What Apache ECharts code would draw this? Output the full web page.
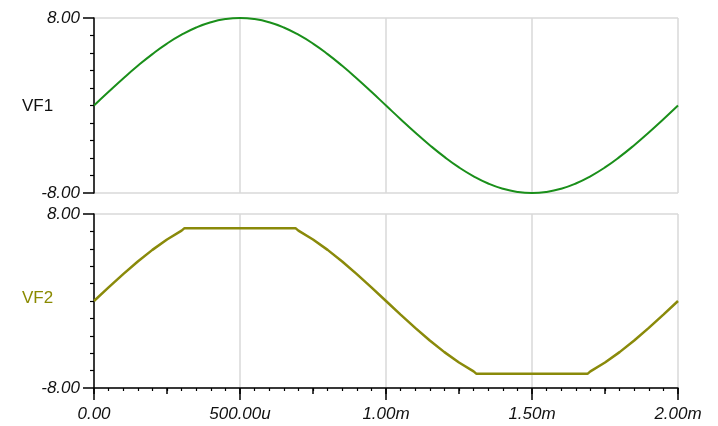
<!DOCTYPE html>
<html>
<head>
<meta charset="utf-8">
<script src="https://cdn.jsdelivr.net/npm/echarts@6/dist/echarts.min.js"></script>
<style>
  html, body { margin: 0; padding: 0; background: #fff; }
  #chart { width: 718px; height: 426px; }
</style>
</head>
<body>
<div id="chart"></div>
<script>
  // time in ms
  var vf1Time = [0, 0.05, 0.1, 0.15, 0.2, 0.25, 0.3, 0.35, 0.4, 0.45, 0.5, 0.55, 0.6, 0.65, 0.7, 0.75, 0.8, 0.85, 0.9, 0.95,
    1.0, 1.05, 1.1, 1.15, 1.2, 1.25, 1.3, 1.35, 1.4, 1.45, 1.5, 1.55, 1.6, 1.65, 1.7, 1.75, 1.8, 1.85, 1.9, 1.95, 2.0];
  var vf1Values = [0, 1.25, 2.47, 3.63, 4.70, 5.66, 6.47, 7.13, 7.61, 7.90, 8.00, 7.90, 7.61, 7.13, 6.47, 5.66, 4.70, 3.63, 2.47, 1.25,
    0, -1.25, -2.47, -3.63, -4.70, -5.66, -6.47, -7.13, -7.61, -7.90, -8.00, -7.90, -7.61, -7.13, -6.47, -5.66, -4.70, -3.63, -2.47, -1.25, 0];

  var vf2Time = [0, 0.05, 0.1, 0.15, 0.2, 0.25, 0.3, 0.31, 0.69, 0.7, 0.75, 0.8, 0.85, 0.9, 0.95,
    1.0, 1.05, 1.1, 1.15, 1.2, 1.25, 1.3, 1.31, 1.69, 1.7, 1.75, 1.8, 1.85, 1.9, 1.95, 2.0];
  var vf2Values = [0, 1.25, 2.47, 3.63, 4.70, 5.66, 6.47, 6.7, 6.7, 6.47, 5.66, 4.70, 3.63, 2.47, 1.25,
    0, -1.25, -2.47, -3.63, -4.70, -5.66, -6.47, -6.7, -6.7, -6.47, -5.66, -4.70, -3.63, -2.47, -1.25, 0];

  var xTickValues = [0, 0.5, 1.0, 1.5, 2.0];
  var xTickLabels = ['0.00', '500.00u', '1.00m', '1.50m', '2.00m'];
  var yTickLabels = ['-8.00', '8.00'];

  var pairs = function (xs, ys) {
    var out = [];
    for (var i = 0; i < xs.length; i++) {
      out.push([xs[i], ys[i]]);
    }
    return out;
  };

  var xLabel = function (v) {
    for (var i = 0; i < xTickValues.length; i++) {
      if (Math.abs(xTickValues[i] - v) < 1e-6) return xTickLabels[i];
    }
    return '';
  };

  var labelFont = {
    fontFamily: 'Liberation Sans, Arial, sans-serif',
    fontStyle: 'italic',
    fontSize: 17,
    color: '#111'
  };

  var gridLine = { show: true, lineStyle: { color: '#d8d8d8', width: 1.5 } };

  var yAxisFor = function (gridIndex) {
    return {
      type: 'value',
      gridIndex: gridIndex,
      min: -8,
      max: 8,
      interval: 16,
      axisLine: { show: true, onZero: false, lineStyle: { color: '#000', width: 1.5 } },
      axisTick: { show: true, length: 11, lineStyle: { color: '#000', width: 1.5 } },
      minorTick: { show: true, splitNumber: 10, length: 4, lineStyle: { color: '#000', width: 1.2 } },
      axisLabel: Object.assign({
        margin: 14,
        formatter: function (v) { return v < 0 ? yTickLabels[0] : yTickLabels[1]; }
      }, labelFont),
      splitLine: gridLine
    };
  };

  var chart = echarts.init(document.getElementById('chart'), null, { renderer: 'canvas' });

  var option = {
    backgroundColor: '#fff',
    animation: false,
    grid: [
      { left: 94, right: 40, top: 18, height: 175 },
      { left: 94, right: 40, top: 214, height: 174 }
    ],
    xAxis: [
      {
        type: 'value', gridIndex: 0, min: 0, max: 2, interval: 0.5,
        axisLine: { show: false }, axisTick: { show: false }, axisLabel: { show: false },
        splitLine: gridLine
      },
      {
        type: 'value', gridIndex: 1, min: 0, max: 2, interval: 0.5,
        axisLine: { show: true, onZero: false, lineStyle: { color: '#000', width: 1.5 } },
        axisTick: { show: true, length: 12, lineStyle: { color: '#000', width: 1.5 } },
        minorTick: { show: true, splitNumber: 10, length: 3, lineStyle: { color: '#000', width: 1.2 } },
        axisLabel: Object.assign({ margin: 18, formatter: xLabel }, labelFont),
        splitLine: gridLine
      },
      {
        // medium ticks at every 250u
        type: 'value', gridIndex: 1, min: 0, max: 2, interval: 0.25, position: 'bottom',
        axisLine: { show: false, onZero: false },
        axisTick: { show: true, length: 6, lineStyle: { color: '#000', width: 1.5 } },
        axisLabel: { show: false },
        splitLine: { show: false }
      }
    ],
    yAxis: [yAxisFor(0), yAxisFor(1)],
    graphic: [
      {
        type: 'text', left: 22, top: 98,
        style: { text: 'VF1', fontFamily: 'Liberation Sans, Arial, sans-serif', fontSize: 17, fill: '#111' }
      },
      {
        type: 'text', left: 22, top: 290,
        style: { text: 'VF2', fontFamily: 'Liberation Sans, Arial, sans-serif', fontSize: 17, fill: '#8a8a00' }
      }
    ],
    series: [
      {
        name: 'VF1', type: 'line', xAxisIndex: 0, yAxisIndex: 0,
        data: pairs(vf1Time, vf1Values),
        smooth: true, showSymbol: false,
        lineStyle: { color: '#1a8f1a', width: 2 }
      },
      {
        name: 'VF2', type: 'line', xAxisIndex: 1, yAxisIndex: 1,
        data: pairs(vf2Time, vf2Values),
        showSymbol: false,
        lineStyle: { color: '#8a8a0a', width: 2.5 }
      }
    ]
  };

  chart.setOption(option);
</script>
</body>
</html>
